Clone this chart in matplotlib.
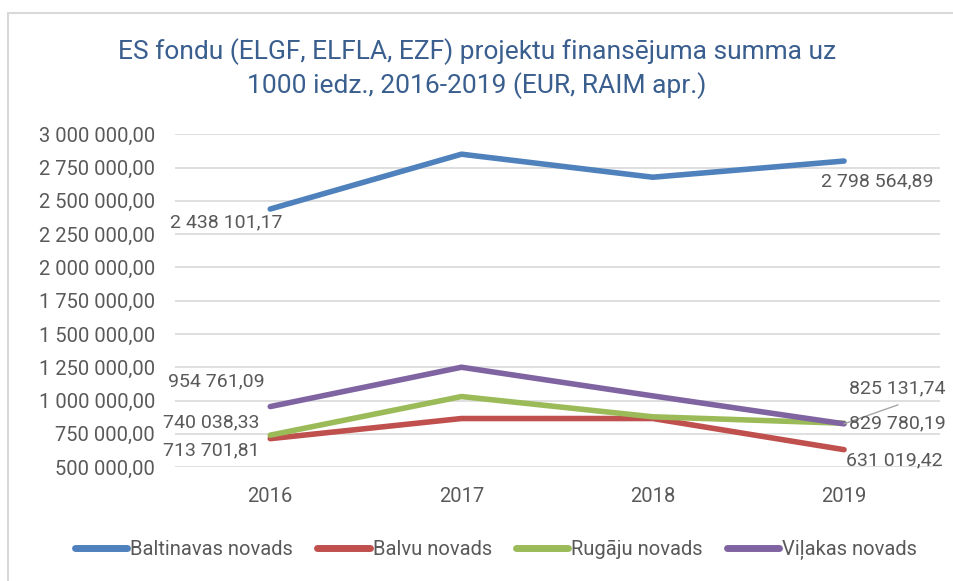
import matplotlib.pyplot as plt
from matplotlib.patches import Rectangle
import numpy as np

years = ["2016", "2017", "2018", "2019"]
series_names = ["Baltinavas novads", "Balvu novads", "Rugāju novads", "Viļakas novads"]
baltinavas = [2438101.17, 2850000, 2677000, 2798564.89]
balvu = [713701.81, 865000, 865000, 631019.42]
rugaju = [740038.33, 1030000, 878000, 829780.19]
vilakas = [954761.09, 1250000, 1035000, 825131.74]
y_ticks = [500000, 750000, 1000000, 1250000, 1500000, 1750000,
           2000000, 2250000, 2500000, 2750000, 3000000]

colors = ["#4F81BD", "#C0504D", "#9BBB59", "#8064A2"]
text_color = "#595959"

plt.rcParams["font.family"] = ["Roboto", "DejaVu Sans"]


def fmt(v):
    # 1 234 567,89 style
    s = f"{v:,.2f}"
    return s.replace(",", " ").replace(".", ",")


fig = plt.figure(figsize=(9.54, 5.81), dpi=100)
# light frame, only left and top edges fall inside the picture
fig.patches.append(Rectangle((0.0084, -0.5), 1.2, 1.4776, transform=fig.transFigure,
                             fill=False, edgecolor="#D9D9D9", lw=1.5))
ax = fig.add_axes([0.183, 0.196, 0.802, 0.573])

x = np.arange(len(years))
all_series = [baltinavas, balvu, rugaju, vilakas]
for vals, name, c in zip(all_series, series_names, colors):
    ax.plot(x, vals, color=c, lw=4, solid_capstyle="round", label=name, zorder=3)

ax.set_xlim(-0.5, 3.5)
ax.set_ylim(y_ticks[0], y_ticks[-1])
ax.set_yticks(y_ticks)
ax.set_yticklabels([fmt(t) for t in y_ticks])
ax.set_xticks(x)
ax.set_xticklabels(years)
ax.tick_params(axis="both", length=0, labelsize=14.5, colors=text_color)
ax.tick_params(axis="y", pad=14)
ax.tick_params(axis="x", pad=14)
ax.grid(axis="y", color="#D9D9D9", lw=1.2)
ax.set_axisbelow(True)
for sp in ax.spines.values():
    sp.set_visible(False)

lab = dict(fontsize=14, color=text_color, textcoords="offset pixels", va="center")
# 2016 labels
ax.annotate(fmt(baltinavas[0]), (x[0], baltinavas[0]), xytext=(-100, -13), **lab)
ax.annotate(fmt(vilakas[0]), (x[0], vilakas[0]), xytext=(-102, 25), **lab)
ax.annotate(fmt(rugaju[0]), (x[0], rugaju[0]), xytext=(-107, 13), **lab)
ax.annotate(fmt(balvu[0]), (x[0], balvu[0]), xytext=(-107, -12), **lab)
# 2019 labels
ax.annotate(fmt(baltinavas[3]), (x[3], baltinavas[3]), xytext=(-23, -20), **lab)
ax.annotate(fmt(vilakas[3]), (x[3], vilakas[3]), xytext=(5, 35), **lab)
ax.annotate("", (x[3], vilakas[3]), xytext=(54, 19), textcoords="offset pixels",
            arrowprops=dict(arrowstyle="-", color="#A6A6A6", lw=1, shrinkA=0, shrinkB=0))
ax.annotate(fmt(rugaju[3]), (x[3], rugaju[3]), xytext=(5, 0), **lab)
ax.annotate(fmt(balvu[3]), (x[3], balvu[3]), xytext=(2, -11), **lab)

fig.text(0.5, 0.882, "ES fondu (ELGF, ELFLA, EZF) projektu finansējuma summa uz\n"
         "1000 iedz., 2016-2019 (EUR, RAIM apr.)", ha="center", va="center",
         fontsize=19, color="#3A5F8F", linespacing=1.35)

leg = fig.legend(loc="center", bbox_to_anchor=(0.52, 0.053), ncol=4, frameon=False,
                 fontsize=14.5, handlelength=2.6, handletextpad=0.15, columnspacing=1.2,
                 labelcolor=text_color)
for h in leg.get_lines():
    h.set_linewidth(5)

fig.savefig("out.png", dpi=100)
